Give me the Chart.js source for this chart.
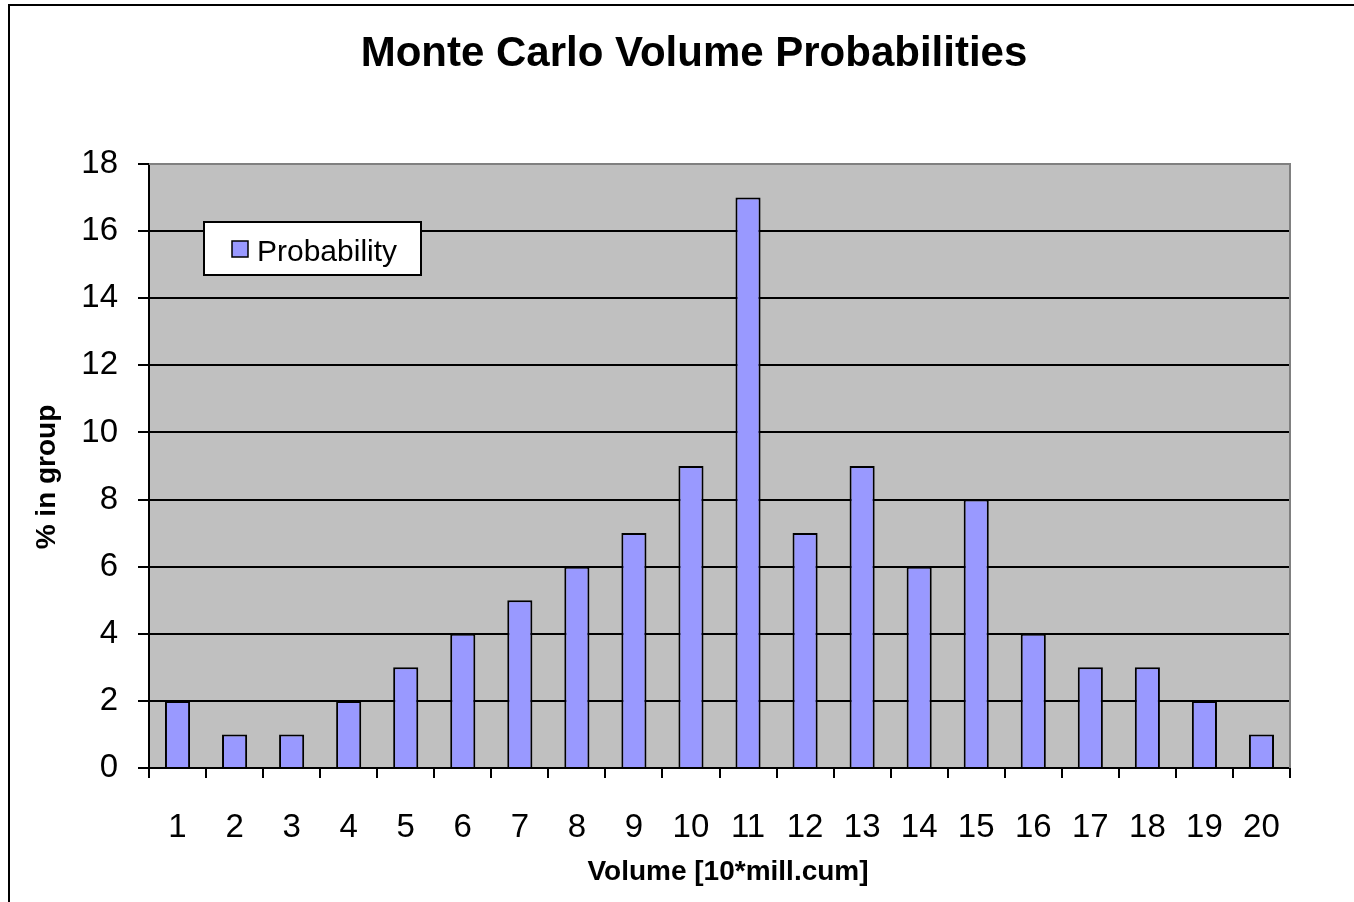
<!DOCTYPE html>
<html>
<head>
<meta charset="utf-8">
<script src="https://cdn.jsdelivr.net/npm/chart.js@4/dist/chart.umd.min.js"></script>
<style>
  html, body { margin: 0; padding: 0; background: #fff; }
  canvas { display: block; }
</style>
</head>
<body>
<canvas id="getChart" width="1354" height="902"></canvas>
<script>
var categories = ["1", "2", "3", "4", "5", "6", "7", "8", "9", "10",
                  "11", "12", "13", "14", "15", "16", "17", "18", "19", "20"];
var probability = [2, 1, 1, 2, 3, 4, 5, 6, 7, 9, 17, 7, 9, 6, 8, 4, 3, 3, 2, 1];
var yMin = 0, yMax = 18, yStep = 2;

var chartTitle = "Monte Carlo Volume Probabilities";
var xTitle = "Volume [10*mill.cum]";
var yTitle = "% in group";

var FONT = "'Liberation Sans', Arial, sans-serif";

// frame, plot background, titles and the legend box (Excel style)
var excelLook = {
    id: "excelLook",
    beforeDraw: function (chart) {
        var c = chart.ctx, a = chart.chartArea;
        c.save();
        c.fillStyle = "#C0C0C0";
        c.fillRect(a.left, a.top, a.right - a.left, a.bottom - a.top);
        c.restore();
    },
    afterDraw: function (chart) {
        var c = chart.ctx, a = chart.chartArea;
        c.save();
        // outer frame
        c.strokeStyle = "#000";
        c.lineWidth = 2;
        c.beginPath();
        c.moveTo(9, chart.height);
        c.lineTo(9, 5);
        c.lineTo(chart.width, 5);
        c.stroke();
        // plot border top/right
        c.strokeStyle = "#808080";
        c.beginPath();
        c.moveTo(a.left, a.top);
        c.lineTo(a.right, a.top);
        c.lineTo(a.right, a.bottom);
        c.stroke();

        c.fillStyle = "#000";
        c.textAlign = "center";
        c.textBaseline = "middle";
        c.font = "bold 42px " + FONT;
        c.fillText(chartTitle, 694, 54);
        c.font = "bold 28px " + FONT;
        c.fillText(xTitle, 728, 872);
        c.translate(47, 477);
        c.rotate(-Math.PI / 2);
        c.fillText(yTitle, 0, 0);
        c.restore();

        // legend
        var ds = chart.data.datasets[0];
        var lx = a.left + 55, ly = a.top + 58;
        c.save();
        c.fillStyle = "#fff";
        c.fillRect(lx, ly, 217, 53);
        c.strokeStyle = "#000";
        c.lineWidth = 2;
        c.strokeRect(lx, ly, 217, 53);
        c.fillStyle = ds.backgroundColor;
        c.fillRect(lx + 28, ly + 19, 16, 16);
        c.lineWidth = 1.5;
        c.strokeRect(lx + 28, ly + 19, 16, 16);
        c.fillStyle = "#000";
        c.font = "30px " + FONT;
        c.textAlign = "left";
        c.textBaseline = "middle";
        c.fillText(ds.label, lx + 53, ly + 31);
        c.restore();
    }
};

var ctx = document.getElementById("getChart");
var chart = new Chart(ctx, {
    type: "bar",
    data: {
        labels: categories,
        datasets: [{
            label: "Probability",
            data: probability,
            backgroundColor: "#9999FF",
            borderColor: "#000",
            borderWidth: 2,
            barPercentage: 0.44,
            categoryPercentage: 1
        }]
    },
    options: {
        responsive: false,
        animation: false,
        devicePixelRatio: 1,
        layout: { padding: { left: 0, top: 164, right: 64, bottom: 0 } },
        plugins: {
            legend: { display: false },
            tooltip: { enabled: false }
        },
        scales: {
            x: {
                grid: { drawOnChartArea: false, color: "#000", lineWidth: 2, tickLength: 10 },
                border: { color: "#000", width: 2 },
                ticks: { color: "#000", font: { family: FONT, size: 33 }, padding: 30, maxRotation: 0 },
                afterFit: function (scale) { scale.height = 134; }
            },
            y: {
                min: yMin,
                max: yMax,
                grid: { color: "#000", lineWidth: 2, tickLength: 11 },
                border: { color: "#000", width: 2 },
                ticks: { stepSize: yStep, color: "#000", font: { family: FONT, size: 33 }, padding: 20 },
                afterFit: function (scale) { scale.width = 149; }
            }
        }
    },
    plugins: [excelLook]
});
</script>
</body>
</html>
